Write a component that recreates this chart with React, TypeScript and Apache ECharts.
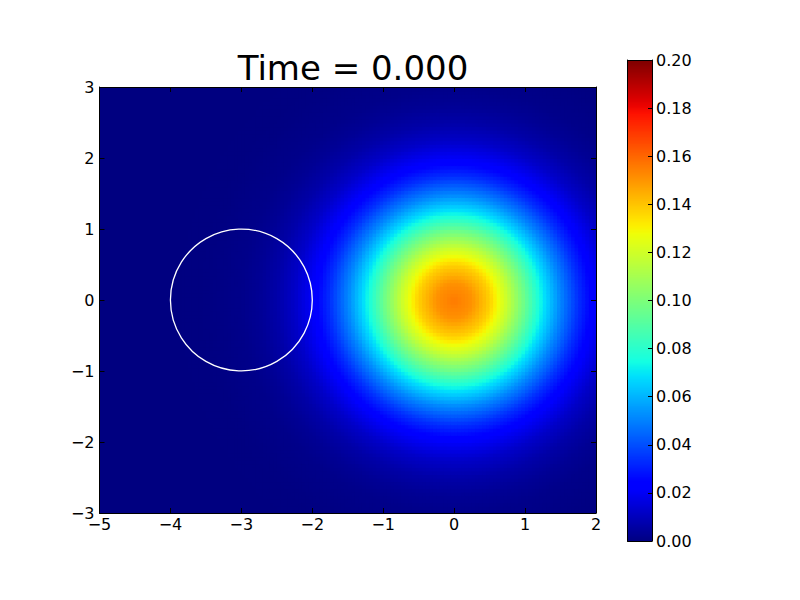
import React, { useEffect, useRef } from "react";
import * as echarts from "echarts";

// ---- data ----
const titleText = "Time = 0.000";
const xRange = [-5, 2];
const yRange = [-3, 3];
const xTicks = [-5, -4, -3, -2, -1, 0, 1, 2];
const yTicks = [-3, -2, -1, 0, 1, 2, 3];
const colorbarRange = [0, 0.2];
const colorbarTickStep = 0.02;
// blob centre and its radial profile (value vs distance), estimated from the colours
const peakCenter = [0, 0];
const profileRadius = [0, 0.25, 0.5, 0.75, 1, 1.25, 1.5, 1.75, 2, 2.25, 2.5, 2.75, 3, 3.5, 4, 7];
const profileValue = [0.156, 0.151, 0.138, 0.118, 0.095, 0.071, 0.051, 0.034, 0.021, 0.0124, 0.0069, 0.0036, 0.0017, 0.0003, 0.0, 0.0];
// white circle: centre x, centre y, radius
const circleData = [[-3, 0, 1]];

const cellSize = 0.05;

function profileAt(r: number): number {
  for (let i = 1; i < profileRadius.length; i++) {
    if (r <= profileRadius[i]) {
      const r0 = profileRadius[i - 1];
      const r1 = profileRadius[i];
      const t = (r - r0) / (r1 - r0);
      return profileValue[i - 1] + t * (profileValue[i] - profileValue[i - 1]);
    }
  }
  return profileValue[profileValue.length - 1];
}

function buildField() {
  const out: number[][] = [];
  const nx = Math.round((xRange[1] - xRange[0]) / cellSize);
  const ny = Math.round((yRange[1] - yRange[0]) / cellSize);
  for (let i = 0; i < nx; i++) {
    const x = xRange[0] + (i + 0.5) * cellSize;
    for (let j = 0; j < ny; j++) {
      const y = yRange[0] + (j + 0.5) * cellSize;
      const r = Math.hypot(x - peakCenter[0], y - peakCenter[1]);
      out.push([x, y, profileAt(r)]);
    }
  }
  return out;
}

const cbStep = 0.0005;
function buildColorbar() {
  const out: number[][] = [];
  const n = Math.round((colorbarRange[1] - colorbarRange[0]) / cbStep);
  for (let i = 0; i < n; i++) {
    const v = colorbarRange[0] + (i + 0.5) * cbStep;
    out.push([0.5, v, v]);
  }
  return out;
}

// matplotlib "jet"
function seg(pts: number[][], t: number) {
  for (let i = 1; i < pts.length; i++) {
    if (t <= pts[i][0]) {
      const a = pts[i - 1], b = pts[i];
      return a[1] + ((t - a[0]) / (b[0] - a[0])) * (b[1] - a[1]);
    }
  }
  return pts[pts.length - 1][1];
}
function jetColors(n: number) {
  const R = [[0, 0], [0.35, 0], [0.66, 1], [0.89, 1], [1, 0.5]];
  const G = [[0, 0], [0.125, 0], [0.375, 1], [0.64, 1], [0.91, 0], [1, 0]];
  const B = [[0, 0.5], [0.11, 1], [0.34, 1], [0.65, 0], [1, 0]];
  const cols: string[] = [];
  for (let i = 0; i <= n; i++) {
    const t = i / n;
    const c = [seg(R, t), seg(G, t), seg(B, t)].map((v) => Math.round(v * 255));
    cols.push(`rgb(${c[0]},${c[1]},${c[2]})`);
  }
  return cols;
}

const FONT = "DejaVu Sans";
const minus = (v: number) => (v < 0 ? "\u2212" + Math.abs(v) : String(v));

export default function App() {
  const ref = useRef<HTMLDivElement>(null);
  useEffect(() => {
    if (!ref.current) return;
    const chart = echarts.init(ref.current, undefined, { renderer: "svg" });
    const field = buildField();
    const cb = buildColorbar();

    const tickStyle = { show: true, inside: true, length: 5, lineStyle: { color: "#000", width: 1 } };
    const lineStyle = { show: true, onZero: false, lineStyle: { color: "#000", width: 1 } };
    const labelStyle = { color: "#000", fontFamily: FONT, fontSize: 16 };

    const option: any = {
      animation: false,
      backgroundColor: "#fff",
      title: {
        text: titleText,
        left: 348,
        top: 46,
        textAlign: "center",
        textStyle: { fontFamily: FONT, fontSize: 34, fontWeight: "normal", color: "#000" },
      },
      grid: [
        { left: 99.5, top: 87, width: 496.5, height: 426 },
        { left: 627.5, top: 60, width: 24.5, height: 481 },
      ],
      xAxis: [
        {
          type: "value", gridIndex: 0, min: xRange[0], max: xRange[1], interval: 1, position: "bottom", z: 10,
          axisLine: lineStyle, axisTick: tickStyle, splitLine: { show: false },
          axisLabel: { ...labelStyle, margin: 3, formatter: (v: number) => (xTicks.includes(v) ? minus(v) : "") },
        },
        {
          type: "value", gridIndex: 0, min: xRange[0], max: xRange[1], interval: 1, position: "top", z: 10,
          axisLine: lineStyle, axisTick: tickStyle, splitLine: { show: false }, axisLabel: { show: false },
        },
        {
          type: "value", gridIndex: 1, min: 0, max: 1, position: "bottom", z: 10,
          axisLine: lineStyle, axisTick: { show: false }, splitLine: { show: false }, axisLabel: { show: false },
        },
        {
          type: "value", gridIndex: 1, min: 0, max: 1, position: "top", z: 10,
          axisLine: lineStyle, axisTick: { show: false }, splitLine: { show: false }, axisLabel: { show: false },
        },
      ],
      yAxis: [
        {
          type: "value", gridIndex: 0, min: yRange[0], max: yRange[1], interval: 1, position: "left", z: 10,
          axisLine: lineStyle, axisTick: tickStyle, splitLine: { show: false },
          axisLabel: { ...labelStyle, margin: 5, formatter: (v: number) => (yTicks.includes(v) ? minus(v) : "") },
        },
        {
          type: "value", gridIndex: 0, min: yRange[0], max: yRange[1], interval: 1, position: "right", z: 10,
          axisLine: lineStyle, axisTick: tickStyle, splitLine: { show: false }, axisLabel: { show: false },
        },
        {
          type: "value", gridIndex: 1, min: colorbarRange[0], max: colorbarRange[1], interval: colorbarTickStep,
          position: "right", z: 10,
          axisLine: lineStyle, axisTick: { ...tickStyle, length: 4 }, splitLine: { show: false },
          axisLabel: { ...labelStyle, margin: 4, formatter: (v: number) => v.toFixed(2) },
        },
        {
          type: "value", gridIndex: 1, min: colorbarRange[0], max: colorbarRange[1], position: "left", z: 10,
          axisLine: lineStyle, axisTick: { show: false }, splitLine: { show: false }, axisLabel: { show: false },
        },
      ],
      visualMap: {
        type: "continuous",
        show: false,
        min: colorbarRange[0],
        max: colorbarRange[1],
        dimension: 2,
        seriesIndex: [0, 1],
        inRange: { color: jetColors(64) },
      },
      series: [
        {
          type: "custom",
          xAxisIndex: 0,
          yAxisIndex: 0,
          clip: true,
          silent: true,
          progressive: 0,
          progressiveThreshold: 1000000,
          encode: { x: 0, y: 1 },
          data: field,
          renderItem: (params: any, api: any) => {
            const x = api.value(0), y = api.value(1);
            const p0 = api.coord([x - cellSize / 2, y + cellSize / 2]);
            const p1 = api.coord([x + cellSize / 2, y - cellSize / 2]);
            return {
              type: "rect",
              shape: { x: p0[0], y: p0[1], width: p1[0] - p0[0] + 1, height: p1[1] - p0[1] + 1 },
              style: { fill: api.visual("color") },
            };
          },
        },
        {
          type: "custom",
          xAxisIndex: 2,
          yAxisIndex: 2,
          clip: true,
          silent: true,
          progressive: 0,
          encode: { x: 0, y: 1 },
          data: cb,
          renderItem: (params: any, api: any) => {
            const v = api.value(1);
            const p0 = api.coord([0, v + cbStep / 2]);
            const p1 = api.coord([1, v - cbStep / 2]);
            return {
              type: "rect",
              shape: { x: p0[0], y: p0[1], width: p1[0] - p0[0], height: p1[1] - p0[1] + 1 },
              style: { fill: api.visual("color") },
            };
          },
        },
        {
          type: "custom",
          xAxisIndex: 0,
          yAxisIndex: 0,
          silent: true,
          z: 5,
          encode: { x: 0, y: 1 },
          data: circleData,
          renderItem: (params: any, api: any) => {
            const c = api.coord([api.value(0), api.value(1)]);
            const r = api.size([api.value(2), 0])[0];
            return {
              type: "circle",
              shape: { cx: c[0], cy: c[1], r },
              style: { fill: "none", stroke: "#fff", lineWidth: 1.3 },
            };
          },
        },
      ],
    };
    chart.setOption(option);
    return () => chart.dispose();
  }, []);
  return (
    <div
      ref={ref}
      style={{ position: "fixed", left: 0, top: 0, width: 800, height: 600 }}
    />
  );
}
